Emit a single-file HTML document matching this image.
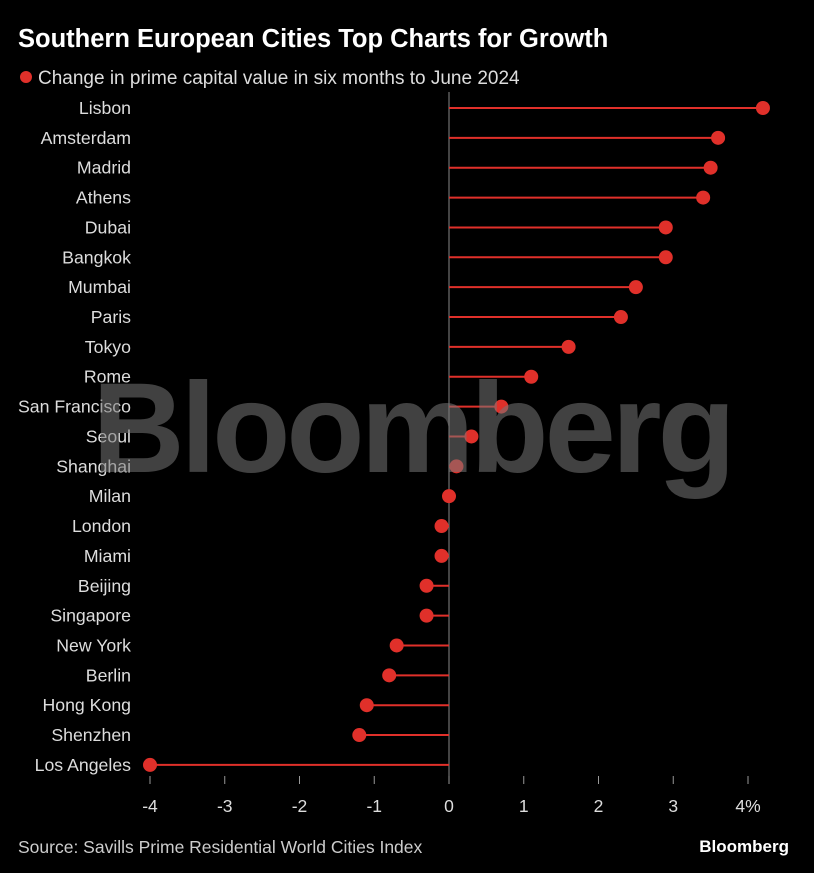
<!DOCTYPE html>
<html><head><meta charset="utf-8"><style>
body{margin:0;background:#000;width:814px;height:873px;overflow:hidden;font-family:"Liberation Sans",sans-serif;color:#ddd}
svg{position:absolute;left:0;top:0}
</style></head><body>
<svg width="814" height="873">
<text x="18" y="47" fill="#fff" font-size="25.5" font-weight="bold">Southern European Cities Top Charts for Growth</text>
<circle cx="26" cy="77" r="6" fill="#e0302a"/>
<text x="38" y="84" fill="#ddd" font-size="19">Change in prime capital value in six months to June 2024</text>
<g id="plot"></g>
<text x="18" y="853" fill="#ccc" font-size="17.5">Source: Savills Prime Residential World Cities Index</text>
<text x="789" y="852" fill="#fff" font-size="17" font-weight="bold" text-anchor="end">Bloomberg</text>
</svg>
<script>
const cities=["Lisbon","Amsterdam","Madrid","Athens","Dubai","Bangkok","Mumbai","Paris","Tokyo","Rome","San Francisco","Seoul","Shanghai","Milan","London","Miami","Beijing","Singapore","New York","Berlin","Hong Kong","Shenzhen","Los Angeles"];
const values=[4.2,3.6,3.5,3.4,2.9,2.9,2.5,2.3,1.6,1.1,0.7,0.3,0.1,0,-0.1,-0.1,-0.3,-0.3,-0.7,-0.8,-1.1,-1.2,-4];
const ticks=[-4,-3,-2,-1,0,1,2,3,4];
const tickLabels=["-4","-3","-2","-1","0","1","2","3","4%"];
const NS="http://www.w3.org/2000/svg";
const g=document.getElementById('plot');
const x=v=>449+v*74.75;
const y=i=>108+i*29.86;
function mk(t,a){const e=document.createElementNS(NS,t);for(const k in a)e.setAttribute(k,a[k]);g.appendChild(e);return e;}
let zl=mk('line',{x1:x(0),x2:x(0),y1:92,y2:780,stroke:'#888','stroke-width':1});


ticks.forEach((t,i)=>{
 let tl=mk('line',{x1:x(t),x2:x(t),y1:776,y2:784,stroke:'#999'});
 
 
 let tx=mk('text',{x:x(t),y:812,fill:'#ddd','font-size':17.5,'text-anchor':'middle'});
 tx.textContent=tickLabels[i];
 
 
});
cities.forEach((c,i)=>{
 let lb=mk('text',{x:131,y:y(i)+6,fill:'#ddd','font-size':17.7,'text-anchor':'end'});
 lb.textContent=c;
 
 
 let st=mk('line',{x1:x(0),x2:x(values[i]),y1:y(i),y2:y(i),stroke:'#e0302a','stroke-width':2});
 
 
 let dt=mk('circle',{cx:x(values[i]),cy:y(i),r:7,fill:'#e0302a'});
 
 
});
let wm=mk('text',{x:412,y:472,fill:'#777','fill-opacity':0.55,'font-size':128,'font-weight':'bold','text-anchor':'middle','letter-spacing':-4});
wm.textContent='Bloomberg';


</script>
</body></html>
